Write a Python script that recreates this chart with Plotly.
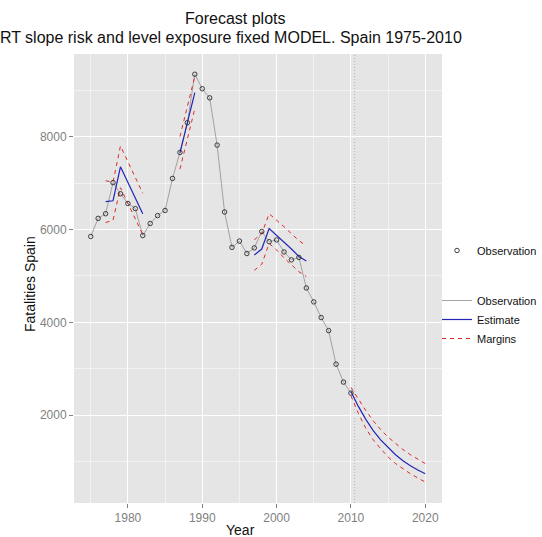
import plotly.graph_objects as go

# ---- data ----
obs_years = list(range(1975, 2011))
obs_values = [5850, 6240, 6340, 7010, 6770, 6560, 6450, 5870, 6130, 6300,
              6410, 7100, 7660, 8300, 9344, 9032, 8836, 7818, 6378, 5615,
              5751, 5483, 5604, 5957, 5738, 5776, 5517, 5347, 5399, 4741,
              4442, 4104, 3823, 3100, 2714, 2478]

seg1_years = [1977, 1978, 1979, 1980, 1981, 1982]
seg1_est = [6600, 6620, 7350, 7010, 6680, 6340]
seg1_up = [7050, 7020, 7800, 7450, 7120, 6780]
seg1_lo = [6150, 6200, 6900, 6560, 6230, 5890]

seg2_years = [1987, 1988, 1989]
seg2_est = [7650, 8300, 8950]
seg2_up = [8000, 8650, 9300]
seg2_lo = [7300, 7950, 8600]

seg3_years = [1997, 1998, 1999, 2000, 2001, 2002, 2003, 2004]
seg3_est = [5450, 5580, 6020, 5880, 5720, 5580, 5420, 5320]
seg3_up = [5780, 5910, 6340, 6210, 6060, 5910, 5760, 5650]
seg3_lo = [5120, 5250, 5700, 5560, 5390, 5250, 5090, 4990]

fc_years = list(range(2010, 2021))
fc_est = [2510, 2190, 1910, 1670, 1470, 1300, 1150, 1020, 910, 820, 740]
fc_up = [2600, 2340, 2100, 1880, 1690, 1530, 1390, 1260, 1150, 1050, 960]
fc_lo = [2420, 2040, 1720, 1470, 1280, 1100, 960, 840, 740, 650, 560]

x_ticks = [1980, 1990, 2000, 2010, 2020]
y_ticks = [2000, 4000, 6000, 8000]
forecast_start = 2010.5

title_line1 = "Forecast plots"
title_line2 = "LRT slope risk and level exposure fixed MODEL. Spain 1975-2010"

# ---- figure ----
W, H = 542, 537
L, R, T, B = 74, 442, 54, 503
FONT = "Liberation Sans, Arial, sans-serif"
GREY_LINE = "#9a9a9a"
BLUE = "#2424b8"
RED = "#e02828"

fig = go.Figure()

# observation line
fig.add_trace(go.Scatter(x=obs_years, y=obs_values, mode="lines",
                         line=dict(color=GREY_LINE, width=0.9),
                         name="Observation", legend="legend2"))

segments = [(seg1_years, seg1_est, seg1_up, seg1_lo),
            (seg2_years, seg2_est, seg2_up, seg2_lo),
            (seg3_years, seg3_est, seg3_up, seg3_lo),
            (fc_years, fc_est, fc_up, fc_lo)]
for i, (yrs, est, up, lo) in enumerate(segments):
    first = (i == 0)
    fig.add_trace(go.Scatter(x=yrs, y=est, mode="lines",
                             line=dict(color=BLUE, width=1.2),
                             name="Estimate", legend="legend2",
                             legendgroup="est", showlegend=first))
    fig.add_trace(go.Scatter(x=yrs, y=up, mode="lines",
                             line=dict(color=RED, width=1, dash="4px,4px"),
                             name="Margins", legend="legend2",
                             legendgroup="mar", showlegend=first))
    fig.add_trace(go.Scatter(x=yrs, y=lo, mode="lines",
                             line=dict(color=RED, width=1, dash="4px,4px"),
                             name="Margins", legend="legend2",
                             legendgroup="mar", showlegend=False))

# observation points
fig.add_trace(go.Scatter(x=obs_years, y=obs_values, mode="markers",
                         marker=dict(symbol="circle-open", size=4.5,
                                     color="#2a2a2a", line=dict(width=0.9)),
                         name="Observation", legend="legend"))

# forecast start dotted line
fig.add_shape(type="line", xref="x", yref="paper",
              x0=forecast_start, x1=forecast_start, y0=0, y1=1,
              line=dict(color="#b4b4b4", width=1, dash="1px,2px"), layer="below")

def px_x(p):
    return (p - L) / (R - L)

def px_y(p):
    return (B - p) / (B - T)

annotations = [
    dict(text=title_line1, x=px_x(235), y=px_y(18), xref="paper", yref="paper",
         showarrow=False, xanchor="center", yanchor="middle",
         font=dict(size=16, color="#111111", family=FONT)),
    dict(text=title_line2, x=px_x(226), y=px_y(38), xref="paper", yref="paper",
         showarrow=False, xanchor="center", yanchor="middle",
         font=dict(size=16, color="#111111", family=FONT)),
    dict(text="Year", x=px_x(240), y=px_y(530), xref="paper", yref="paper",
         showarrow=False, xanchor="center", yanchor="middle",
         font=dict(size=14, color="#111111", family=FONT)),
    dict(text="Fatalities Spain", x=px_x(30), y=px_y(284), xref="paper", yref="paper",
         showarrow=False, xanchor="center", yanchor="middle", textangle=-90,
         font=dict(size=14, color="#111111", family=FONT)),
]

fig.update_layout(
    width=W, height=H,
    margin=dict(l=L, r=W - R, t=T, b=H - B, pad=0, autoexpand=False),
    paper_bgcolor="white", plot_bgcolor="#e5e5e5",
    font=dict(family=FONT),
    showlegend=True,
    annotations=annotations,
    xaxis=dict(range=[1972.75, 2022.25], tickvals=x_ticks,
               ticks="outside", ticklen=4, tickcolor="#7f7f7f",
               tickfont=dict(size=12, color="#7f7f7f", family=FONT),
               showgrid=True, gridcolor="white", gridwidth=1.2,
               minor=dict(dtick=5, tick0=1975, showgrid=True,
                          gridcolor="#f2f2f2", gridwidth=0.8),
               zeroline=False, showline=False, fixedrange=True),
    yaxis=dict(range=[110, 9780], tickvals=y_ticks,
               ticks="outside", ticklen=4, tickcolor="#7f7f7f",
               tickfont=dict(size=12, color="#7f7f7f", family=FONT),
               showgrid=True, gridcolor="white", gridwidth=1.2,
               minor=dict(dtick=1000, tick0=1000, showgrid=True,
                          gridcolor="#f2f2f2", gridwidth=0.8),
               zeroline=False, showline=False, fixedrange=True),
    legend=dict(x=px_x(437), y=px_y(236), xanchor="left", yanchor="top",
                font=dict(size=11, color="#111111", family=FONT),
                bgcolor="rgba(0,0,0,0)", itemwidth=30),
    legend2=dict(x=px_x(437), y=px_y(286), xanchor="left", yanchor="top",
                 font=dict(size=11, color="#111111", family=FONT),
                 bgcolor="rgba(0,0,0,0)", itemwidth=30, tracegroupgap=0),
)

fig.write_html("out.html")
